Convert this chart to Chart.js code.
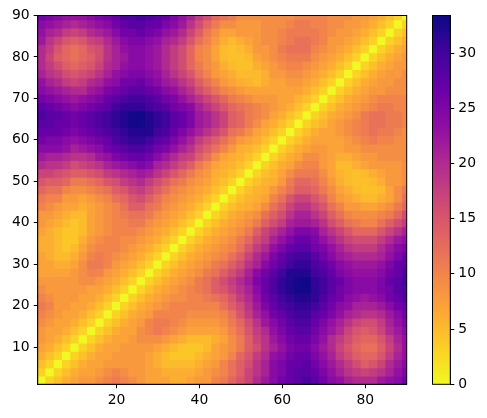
<!DOCTYPE html>
<html>
<head>
<meta charset="utf-8">
<script src="https://cdn.jsdelivr.net/npm/chart.js@4"></script>
<style>
  html, body { margin: 0; padding: 0; background: #fff; }
  canvas { position: absolute; left: 0; top: 0; }
</style>
</head>
<body>
<canvas id="heatChart" width="487" height="418"></canvas>
<canvas id="barChart" width="487" height="418"></canvas>
<script>
const cellCenters = [2,4,6,8,10,12,14,16,18,20,22,24,26,28,30,32,34,36,38,40,42,44,46,48,50,52,54,56,58,60,62,64,66,68,70,72,74,76,78,80,82,84,86,88,90];
const xTicks = [20, 40, 60, 80];
const yTicks = [10, 20, 30, 40, 50, 60, 70, 80, 90];
const barTicks = [0, 5, 10, 15, 20, 25, 30];
const barMax = 33.4;
// plasma reversed, low value first
const colorStops = ['#f0f921','#fcce25','#fca636','#f2844b','#e16462','#cc4778','#b12a90','#8f0da4','#6a00a8','#41049d','#0d0887'];

// the matrix is symmetric: each row starts on the diagonal and runs up to 90
const rows = [
  [0,3,4.5,6,7,8,8,9,10,11,10,9,8,7,7,7,6,6,7,8,8,10,11,13,15,17,20,22,24,26,27,28,29,28,26,24,23,21,20,20,20,22,23,24,26],
  [0,3,4.5,6,7,7,8,9,10,9,8,8,7,7,6,6,6,6,7,8,9,10,12,14,17,19,21,24,25,27,28,28,27,25,23,21,19,18,17,18,19,21,23,25],
  [0,3,4.5,6,7,7,8,8,8,8,8,7,6,5,5,5,5,6,7,8,10,12,14,16,19,21,24,25,27,27,28,26,24,22,20,18,16,14,15,17,20,22,24],
  [0,3,4.5,6,7,7,8,8,8,8,7,6,5,4,4,4,5,6,7,8,10,13,15,18,20,23,24,26,27,27,25,23,21,18,16,14,13,13,15,18,21,23],
  [0,3,4.5,6,7,7,8,8,8,8,7,6,5,4,4,4,5,7,8,9,11,14,16,19,21,23,25,26,26,24,22,20,17,15,13,12,12,14,17,20,23],
  [0,3,4.5,6,7,7,8,9,9,9,8,7,6,5,5,5,6,7,9,11,14,17,19,22,24,26,27,27,25,23,20,18,16,14,13,13,15,18,21,23],
  [0,3,4.5,6,7,7,9,10,11,10,9,8,7,7,7,7,8,10,12,15,18,20,23,25,27,28,28,26,24,22,20,17,15,14,15,17,20,22,24],
  [0,3,4.5,6,7,8,10,11,11,10,9,8,8,8,8,9,11,13,16,19,22,24,26,28,29,29,27,25,23,21,19,17,16,16,18,21,23,25],
  [0,3,4.5,6,7,8,10,10,10,10,9,9,9,9,10,12,15,18,21,23,26,27,29,30,30,28,27,25,23,21,20,19,19,20,22,24,26],
  [0,3,4.5,6,7,8,9,10,10,10,10,10,10,12,14,16,19,22,25,27,29,30,31,31,30,28,26,24,23,21,21,21,22,24,26,27],
  [0,3,4.5,6,7,8,9,9,10,10,11,12,13,15,18,20,23,26,28,30,31,32,32,31,29,27,26,24,23,22,23,24,26,27,29],
  [0,3,4.5,6,7,8,9,10,11,12,14,15,17,19,21,24,27,29,31,32,33,33,31,30,28,26,25,24,24,24,25,26,28,29],
  [0,3,4.5,6,7,8,9,11,12,14,16,18,20,22,25,27,29,31,32,33,33.3,31,30,28,27,25,24,24,24,25,27,28,30],
  [0,3,4.5,6,7,8,9,11,12,14,16,18,21,24,26,28,30,32,32,32,30,29,27,25,24,23,23,23,24,26,27,29],
  [0,3,4.5,6,7,8,9,11,12,14,16,19,21,24,26,28,30,31,31,29,28,26,24,23,22,22,22,23,25,27,28],
  [0,3,4.5,6,7,8,9,10,12,14,17,20,22,25,27,29,30,30,28,26,24,22,21,20,20,20,21,23,25,27],
  [0,3,4.5,6,7,8,9,10,12,15,18,20,23,25,27,28,28,26,25,23,21,19,18,18,18,20,22,24,25],
  [0,3,4.5,6,7,8,9,11,13,16,18,21,23,25,27,27,25,23,21,19,17,16,16,16,18,20,22,23],
  [0,3,4.5,6,7,8,9,11,14,17,19,21,23,25,25,24,21,19,17,15,13,13,13,15,17,19,21],
  [0,3,4.5,6,7,8,9,11,14,16,18,21,22,22,21,19,16,14,12,11,10,10,12,14,16,18],
  [0,3,4.5,6,7,8,9,12,14,16,19,21,21,19,17,14,12,10,9,9,9,10,11,13,16],
  [0,3,4.5,5.5,6,7,9,12,14,17,19,19,17,15,12,10,8,8,7,7,8,9,11,13],
  [0,3,4.5,5.5,6,7,10,12,15,17,17,15,13,10,8,7,6,5,5,6,7,9,12],
  [0,3,4.5,5.5,6,8,10,12,14,14,13,11,9,7,6,5,4.5,4.5,5,7,9,11],
  [0,3,4.5,5.5,6,8,11,13,13,12,10,8,6,5,4.5,4.5,5,6,8,8,9],
  [0,3,4.5,5.5,7,9,11,11,11,9,7,5.5,5,4.5,5,6,7,8,8,9],
  [0,3,4.5,6,7,9,10,10,8,7,5,5,6,7,8,8,8,8,9],
  [0,3,4.5,6,7,9,9,8,7,6,6,7,8,8,9,9,9,9],
  [0,3,4.5,6,7,8,8,7,7,8,8,9,9,9,9,9,9],
  [0,3,4.5,6,7,7,7,7,8,9,10,11,10,10,9,9],
  [0,3,4.5,6,7,7,8,9,10,11,12,11,11,10,9],
  [0,3,4.5,5.5,7,8,9,10,11,12,12,11,11,10],
  [0,3,4.5,6,7,8,9,11,12,12,11,11,10],
  [0,3,4.5,6,7,8,9,10,11,11,10,10],
  [0,3,4.5,6,7,8,9,10,10,10,10],
  [0,3,4.5,6,7,8,8,9,9,9],
  [0,3,4.5,6,7,8,8,9,9],
  [0,3,4.5,6,7,8,8,9],
  [0,3,4.5,6,7,8,8],
  [0,3,4.5,6,7,8],
  [0,3,4.5,6,7],
  [0,3,4.5,6],
  [0,3,4.5],
  [0,3],
  [0]
];

const tickFont = { family: 'DejaVu Sans', size: 13.9 };

function hexToRgb(hex) {
  return [1, 3, 5].map(i => parseInt(hex.slice(i, i + 2), 16));
}

function colorFor(value) {
  const t = Math.min(value / barMax, 1) * (colorStops.length - 1);
  const i = Math.min(Math.floor(t), colorStops.length - 2);
  const a = hexToRgb(colorStops[i]);
  const b = hexToRgb(colorStops[i + 1]);
  const f = t - i;
  return 'rgb(' + a.map((c, k) => Math.round(c + (b[k] - c) * f)).join(',') + ')';
}

function buildCells() {
  const cells = [];
  rows.forEach((row, k) => {
    row.forEach((v, m) => {
      cells.push({ x: cellCenters[k], y: cellCenters[k + m], v: v });
      if (m > 0) cells.push({ x: cellCenters[k + m], y: cellCenters[k], v: v });
    });
  });
  // draw in grid order so the overlap of neighbours stays even
  cells.sort((a, b) => a.y - b.y || a.x - b.x);
  return cells;
}

// chart.js has no spine on the far sides, so box the plot area here
const framePlugin = {
  id: 'frame',
  afterDraw(chart) {
    const a = chart.chartArea;
    const c = chart.ctx;
    c.save();
    c.strokeStyle = '#000';
    c.lineWidth = 1;
    c.strokeRect(a.left, a.top, a.right - a.left, a.bottom - a.top);
    c.restore();
  }
};

function axisBase(ticks) {
  return {
    type: 'linear',
    afterBuildTicks(scale) { scale.ticks = ticks.map(v => ({ value: v })); },
    grid: { drawOnChartArea: false, drawTicks: true, tickLength: 4, color: '#000' },
    border: { color: '#000' },
    ticks: { color: '#000', font: tickFont, padding: 4, maxRotation: 0, autoSkip: false }
  };
}

const xAxis = axisBase(xTicks);
xAxis.min = 1;
xAxis.max = 90;
xAxis.afterFit = scale => { scale.height = 33.7; };

const yAxis = axisBase(yTicks);
yAxis.min = 1;
yAxis.max = 90;
yAxis.afterFit = scale => { scale.width = 37.7; };

new Chart(document.getElementById('heatChart'), {
  type: 'scatter',
  data: {
    datasets: [{
      data: buildCells(),
      pointStyle: 'rect',
      pointRadius: 6.6,
      pointHoverRadius: 6.6,
      pointBorderWidth: 0,
      pointBackgroundColor: ctx => colorFor(ctx.raw.v)
    }]
  },
  options: {
    responsive: false,
    animation: false,
    events: [],
    layout: { padding: { left: 0, top: 15.5, right: 80.3, bottom: 0 } },
    plugins: { legend: { display: false }, tooltip: { enabled: false } },
    scales: { x: xAxis, y: yAxis }
  },
  plugins: [framePlugin]
});

function barGradient(ctx) {
  const area = ctx.chart.chartArea;
  if (!area) return colorStops[0];
  const g = ctx.chart.ctx.createLinearGradient(0, area.bottom, 0, area.top);
  colorStops.forEach((c, i) => g.addColorStop(i / (colorStops.length - 1), c));
  return g;
}

const barAxis = axisBase(barTicks);
barAxis.position = 'right';
barAxis.min = 0;
barAxis.max = barMax;
barAxis.afterFit = scale => { scale.width = 36.7; };

new Chart(document.getElementById('barChart'), {
  type: 'bar',
  data: {
    labels: [''],
    datasets: [{
      data: [[0, barMax]],
      backgroundColor: barGradient,
      barPercentage: 1,
      categoryPercentage: 1,
      borderWidth: 0
    }]
  },
  options: {
    responsive: false,
    animation: false,
    events: [],
    layout: { padding: { left: 432.5, top: 15.5, right: 0, bottom: 33.7 } },
    plugins: { legend: { display: false }, tooltip: { enabled: false } },
    scales: { x: { display: false }, y: barAxis }
  },
  plugins: [framePlugin]
});
</script>
</body>
</html>
